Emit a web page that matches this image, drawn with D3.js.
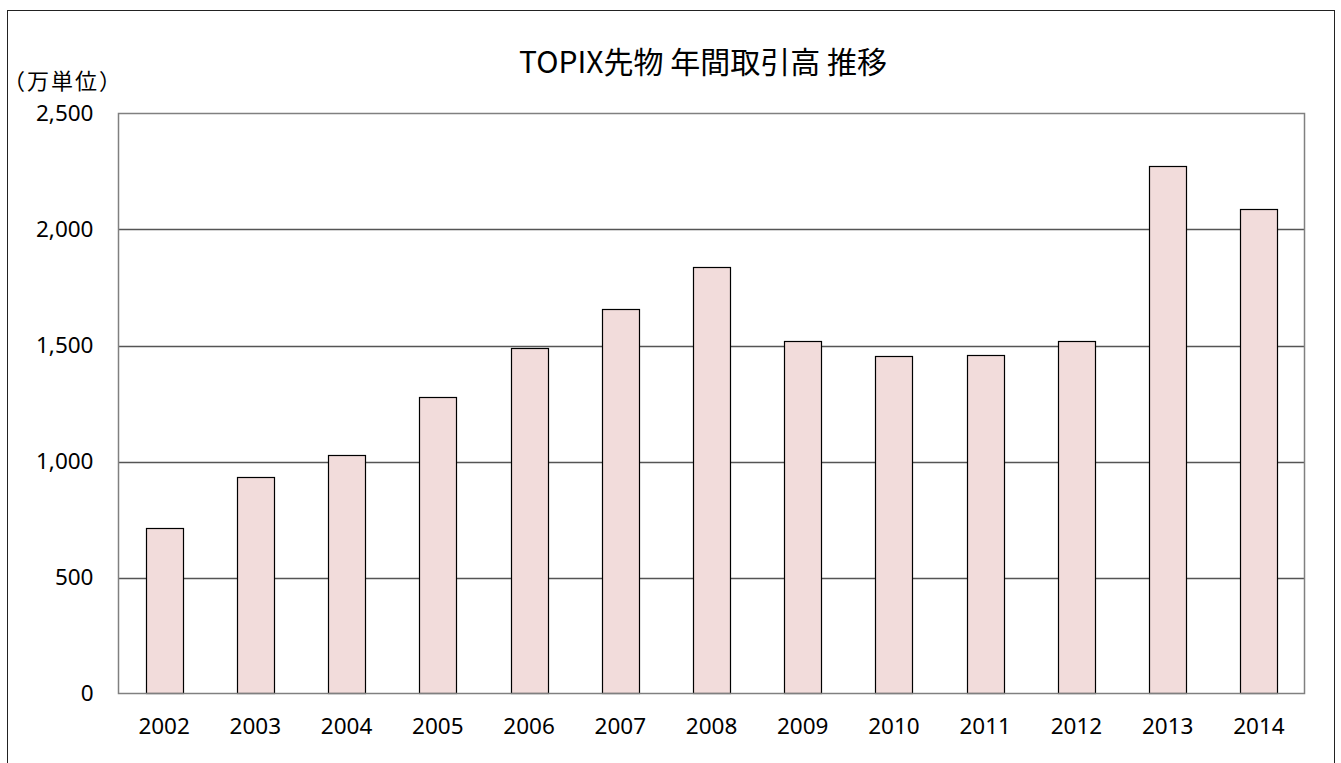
<html>
  <head>
    <meta charset="utf-8">
    <title>TOPIX先物 年間取引高 推移</title>
    <script src="https://d3js.org/d3.v7.min.js" charset="utf-8"></script>
    <style>
      body { margin: 0; background: #fff; }
      text { font-family: "Noto Sans", "Noto Sans CJK JP", sans-serif; fill: #000; }
      .jp { font-family: "Noto Sans CJK JP", sans-serif; }
    </style>
  </head>
  <body>
    <script>
      // data (万単位)
      var years = ["2002", "2003", "2004", "2005", "2006", "2007", "2008",
                   "2009", "2010", "2011", "2012", "2013", "2014"];
      var volumes = [712, 933, 1029, 1279, 1490, 1658, 1839, 1519, 1455, 1461, 1518, 2273, 2089];
      var yTicks = [0, 500, 1000, 1500, 2000, 2500];
      var title = "TOPIX先物 年間取引高 推移";
      var unitLabel = "（万単位）";

      var width = 1341, height = 763;
      var plot = {left: 118.5, right: 1304.5, top: 113.5, bottom: 693.5};

      var svg = d3.select("body").append("svg")
        .attr("width", width)
        .attr("height", height);

      // outer chart border (runs past the bottom of the window)
      svg.append("rect")
        .attr("x", 7.5).attr("y", 10.5)
        .attr("width", 1327).attr("height", 800)
        .attr("fill", "none")
        .attr("stroke", "#222")
        .attr("stroke-width", 1);

      var x = d3.scaleBand()
        .domain(years)
        .range([plot.left, plot.right])
        .paddingInner(0.594)
        .paddingOuter(0.297);

      var y = d3.scaleLinear()
        .domain([0, 2500])
        .range([plot.bottom, plot.top]);

      // gridlines
      svg.append("g")
        .selectAll("line")
        .data(yTicks.filter(function(d) { return d > 0 && d < 2500; }))
        .enter().append("line")
        .attr("x1", plot.left).attr("x2", plot.right)
        .attr("y1", function(d) { return Math.round(y(d)) + 0.5; })
        .attr("y2", function(d) { return Math.round(y(d)) + 0.5; })
        .attr("stroke", "#555")
        .attr("stroke-width", 1.3);

      // bars
      svg.append("g")
        .selectAll("rect")
        .data(volumes)
        .enter().append("rect")
        .attr("x", function(d, i) { return Math.round(x(years[i])) + 0.5; })
        .attr("y", function(d) { return Math.round(y(d)) + 0.5; })
        .attr("width", Math.round(x.bandwidth()))
        .attr("height", function(d) { return plot.bottom - Math.round(y(d)) - 0.5; })
        .attr("fill", "#f2dcdb")
        .attr("stroke", "#000")
        .attr("stroke-width", 1.2);

      // plot frame
      svg.append("rect")
        .attr("x", plot.left).attr("y", plot.top)
        .attr("width", plot.right - plot.left)
        .attr("height", plot.bottom - plot.top)
        .attr("fill", "none")
        .attr("stroke", "#808080")
        .attr("stroke-width", 1.5);

      // y axis labels
      var yAxis = d3.axisLeft(y)
        .tickValues(yTicks)
        .tickFormat(d3.format(","))
        .tickSize(0)
        .tickPadding(25);
      var gy = svg.append("g")
        .attr("transform", "translate(" + plot.left + ",0)")
        .call(yAxis);
      gy.select(".domain").remove();
      gy.selectAll("text")
        .style("font-family", "'Noto Sans', sans-serif")
        .style("font-size", "22.5px")
        .attr("fill", "#000");

      // x axis labels
      var xAxis = d3.axisBottom(x).tickSize(0).tickPadding(25);
      var gx = svg.append("g")
        .attr("transform", "translate(0," + plot.bottom + ")")
        .call(xAxis);
      gx.select(".domain").remove();
      gx.selectAll("text")
        .style("font-family", "'Noto Sans', sans-serif")
        .style("font-size", "22.5px")
        .attr("fill", "#000");

      // title
      svg.append("text")
        .attr("class", "jp")
        .attr("x", 703)
        .attr("y", 73)
        .attr("text-anchor", "middle")
        .style("font-size", "30px")
        .text(title);

      // unit label
      svg.append("text")
        .attr("class", "jp")
        .attr("x", 3)
        .attr("y", 89)
        .style("font-size", "22px")
        .style("letter-spacing", "2px")
        .text(unitLabel);
    </script>
  </body>
</html>
